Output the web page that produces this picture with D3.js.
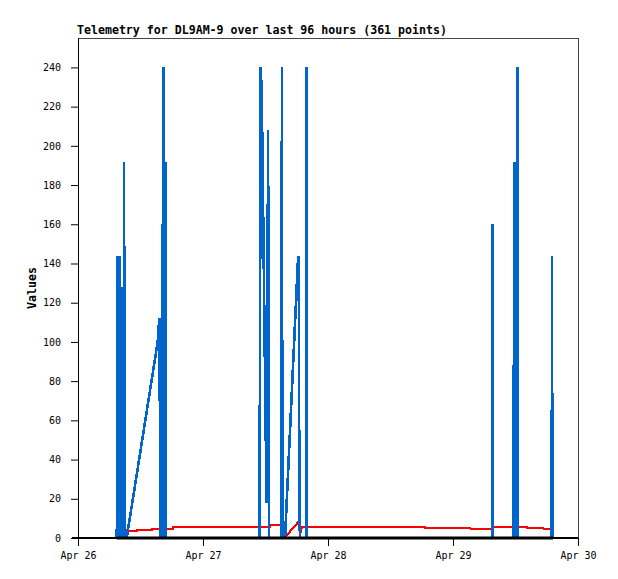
<!DOCTYPE html>
<html>
<head>
<meta charset="utf-8">
<script src="https://cdn.jsdelivr.net/npm/d3@7"></script>
<style>
  body { margin: 0; background: #fff; }
  svg { display: block; }
  text { font-family: "DejaVu Sans Mono", "Liberation Mono", monospace; }
</style>
</head>
<body>
<svg id="chart"></svg>
<script>
// data (hours after Apr 26 00:00)
var blueHours = [7.45,7.55,7.65,7.75,7.85,8.05,8.15,8.3,8.4,8.6,8.7,8.85,8.95,9.35,
    15.3,15.5,15.65,15.8,15.9,16.0,16.15,16.3,16.45,16.6,16.75,16.9,
    34.85,34.95,35.1,35.3,35.45,35.6,35.75,35.9,36.05,36.2,36.35,36.5,36.65,
    39.05,39.15,39.25,39.75,42.2,42.3,42.4,42.5,42.6,
    43.85,43.92,44.0,
    79.5,79.6,79.7,83.55,83.6,83.7,83.8,83.9,84.0,84.1,84.2,84.3,84.4,84.5,
    90.95,91.0,91.1];
var blueValues = [0,144,0,72,0,144,0,56,0,128,0,192,0,0,
    100,108,112,0,112,0,160,0,240,0,192,0,
    0,112,240,223,189,155,120,85,52,18,104,208,0,
    0,240,0,0,140,144,120,32,0,
    0,240,0,
    0,160,0,0,88,0,192,0,144,0,144,0,240,0,
    0,144,0];

var redHours = [8.9,9.35,11.3,11.35,14.25,14.3,18.15,18.2,36.8,36.85,38.9,39.0,39.1,39.3,39.6,
    42.2,42.5,42.8,43.0,66.6,66.7,75.3,75.4,79.7,79.8,86.2,86.3,89.3,89.4,91.1,91.2];
var redValues = [4.6,3.7,3.7,4.2,4.2,4.7,4.7,5.8,5.8,6.6,6.6,8.4,6.6,0,0,
    7.8,6.0,3.7,5.8,5.8,5.1,5.1,4.6,4.6,5.6,5.6,5.1,5.1,4.6,4.6,5.2];

var blackHours = [7.45,91.2];
var blackValues = [0,0];

var dayTicks = ["2024-04-26","2024-04-27","2024-04-28","2024-04-29","2024-04-30"];
var yTicks = [0,20,40,60,80,100,120,140,160,180,200,220,240];
var title = "Telemetry for DL9AM-9 over last 96 hours (361 points)";

var W = 618, H = 579;
var pLeft = 78, pRight = 578, pTop = 38, pBottom = 538;
var start = new Date(2024,3,26);

function pts(hours, vals){
    return hours.map(function(h,i){
        return {t: new Date(start.getTime() + h*3600000), v: vals[i]};
    });
}

var svg = d3.select("#chart").attr("width", W).attr("height", H);

var x = d3.scaleTime()
    .domain([new Date(2024,3,26), new Date(2024,3,30)])
    .range([pLeft, pRight]);
var y = d3.scaleLinear()
    .domain([0,255])
    .range([pBottom, pTop]);

var line = d3.line()
    .x(function(d){ return x(d.t); })
    .y(function(d){ return y(d.v); });

// series: red under blue, black zero line on top
svg.append("path")
    .datum(pts(redHours, redValues))
    .attr("d", line)
    .attr("fill","none")
    .attr("stroke","#ff0000")
    .attr("stroke-width",2.2)
    .attr("shape-rendering","crispEdges");
svg.append("path")
    .datum(pts(blueHours, blueValues))
    .attr("d", line)
    .attr("fill","none")
    .attr("stroke","#0066cc")
    .attr("stroke-width",2.6)
    .attr("shape-rendering","crispEdges");

// frame
svg.append("line").attr("x1",pLeft).attr("x2",pRight).attr("y1",pTop+0.5).attr("y2",pTop+0.5)
    .attr("stroke","#444").attr("stroke-width",1);
svg.append("line").attr("x1",pRight+0.5).attr("x2",pRight+0.5).attr("y1",pTop).attr("y2",pBottom)
    .attr("stroke","#444").attr("stroke-width",1);
svg.append("line").attr("x1",pLeft+0.5).attr("x2",pLeft+0.5).attr("y1",pTop).attr("y2",pBottom)
    .attr("stroke","#000").attr("stroke-width",1);

svg.append("path")
    .datum(pts(blackHours, blackValues))
    .attr("d", line)
    .attr("fill","none")
    .attr("stroke","#000")
    .attr("stroke-width",3);

// axes
var yAxis = svg.append("g")
    .attr("transform","translate("+pLeft+",0)")
    .call(d3.axisLeft(y).tickValues(yTicks).tickSize(7).tickPadding(10).tickSizeOuter(0));
yAxis.select(".domain").remove();
yAxis.selectAll("text").style("font-size","10px").attr("fill","#000");

var xAxis = svg.append("g")
    .attr("transform","translate(0,"+pBottom+")")
    .call(d3.axisBottom(x)
        .tickValues(dayTicks.map(function(s){ return d3.timeParse("%Y-%m-%d")(s); }))
        .tickFormat(d3.timeFormat("%b %d"))
        .tickSize(8).tickPadding(6).tickSizeOuter(0));
xAxis.select(".domain").attr("stroke","#000").attr("stroke-width",2).attr("d","M"+(pLeft-6)+",0H"+pRight);
xAxis.selectAll("text").style("font-size","10px").attr("fill","#000");

svg.append("text")
    .attr("x", pLeft-1)
    .attr("y", 34)
    .style("font-size","11.6px")
    .style("font-weight","bold")
    .text(title);

svg.append("text")
    .attr("transform","translate(36,"+((pTop+pBottom)/2)+") rotate(-90)")
    .attr("text-anchor","middle")
    .style("font-size","11.6px")
    .style("font-weight","bold")
    .text("Values");
</script>
</body>
</html>
